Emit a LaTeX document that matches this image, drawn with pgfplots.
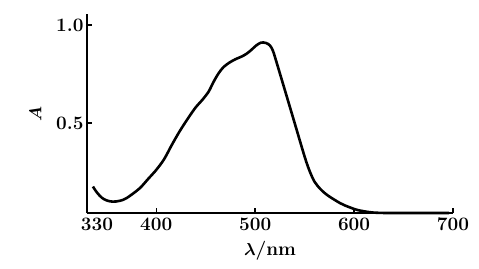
\documentclass[border=0pt]{standalone}
\usepackage{pgfplots}
\usepackage{bm}
\pgfplotsset{compat=1.18}
\begin{document}
\begin{tikzpicture}[x=1pt,y=1pt]
\begin{axis}[
  name=ax,
  scale only axis,
  width=366pt, height=199pt,
  xmin=330, xmax=700,
  ymin=0.04, ymax=1.056,
  axis x line*=bottom, axis y line*=left,
  axis line style={line width=1.6pt,-},
  xtick={400,500,600,700},
  ytick={0.5,1.0},
  yticklabels={0.5,1.0},
  extra x ticks={330},
  extra x tick style={major tick length=0pt, xticklabel style={xshift=10pt}},
  tick align=inside,
  major tick length=5pt,
  tick style={line width=1.4pt, black},
  ticklabel style={font=\fontsize{19}{22}\selectfont\bfseries},
  xticklabel style={yshift=-1pt},
  yticklabel style={xshift=0pt},
  /pgf/number format/assume math mode=true,
  /pgf/number format/fixed,
  /pgf/number format/precision=1,
  /pgf/number format/fixed zerofill,
  xticklabel={\pgfmathprintnumber[fixed,precision=0,fixed zerofill=false]{\tick}},
  xlabel={\fontsize{19}{22}\selectfont$\bm{\lambda}$\textbf{/nm}},
  xlabel style={yshift=-4pt},
  ylabel={\fontsize{19}{22}\selectfont$\bm{A}$},
  ylabel style={yshift=8pt},
  clip=false,
]
\addplot[line width=2.6pt, smooth, tension=0.5, black] coordinates {
(336,0.175) (340,0.145) (345,0.118) (350,0.104) (356,0.098) (363,0.102) (370,0.116)
(383,0.165) (392,0.215) (400,0.26) (408,0.315) (416,0.39) (424,0.46) (433,0.53)
(440,0.580) (447,0.62) (453,0.66) (458,0.71) (463,0.753) (468,0.785) (474,0.808)
(480,0.825) (486,0.838) (491,0.852) (496,0.872) (501,0.895) (506,0.91) (511,0.908)
(515,0.895) (518,0.868) (521,0.82) (530,0.668) (540,0.498) (550,0.328) (555,0.255)
(560,0.200) (566,0.162) (573,0.131) (586,0.090) (595,0.070) (603,0.056) (612,0.047)
(620,0.042) (632,0.040) (643,0.040) (696,0.040)
};
\end{axis}
\path ([xshift=-87pt,yshift=-55pt]ax.south west) rectangle ([xshift=26pt,yshift=14pt]ax.north east);
\end{tikzpicture}
\end{document}
